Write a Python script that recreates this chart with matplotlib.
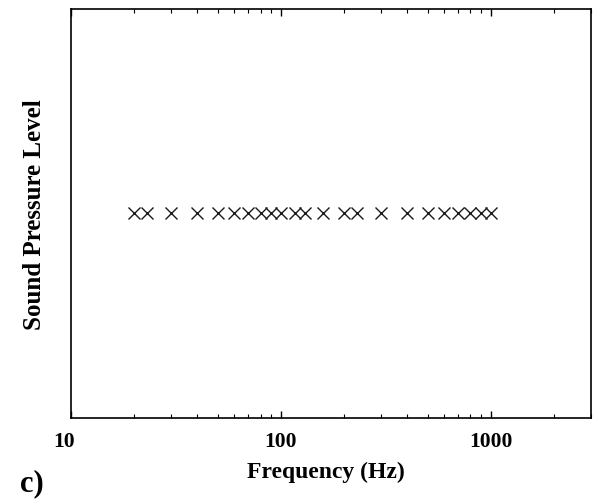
import matplotlib
matplotlib.use("Agg")
import matplotlib.pyplot as plt
import matplotlib.transforms as mtransforms
from matplotlib.ticker import LogLocator, NullFormatter, FixedLocator, FixedFormatter

# Data
frequencies = [20, 23, 30, 40, 50, 60, 70, 80, 90, 100, 117, 130, 158,
               200, 230, 300, 400, 500, 600, 700, 800, 900, 1000]
levels = [0.5] * len(frequencies)
tick_values = [10, 100, 1000]
tick_labels = ["10", "100", "1000"]

plt.rcParams['font.family'] = ['Liberation Serif', 'DejaVu Serif']

fig = plt.figure(figsize=(5.93, 5.02), dpi=100)
ax = fig.add_axes([0.1197, 0.1663, 0.8769, 0.8137])

ax.plot(frequencies, levels, linestyle='none', marker='x', markersize=8.5,
        markeredgewidth=1.0, color='#1a1a1a')

ax.set_xscale('log')
ax.set_xlim(10, 3000)
ax.set_ylim(0, 1)

ax.xaxis.set_major_locator(FixedLocator(tick_values))
ax.xaxis.set_major_formatter(FixedFormatter(tick_labels))
ax.xaxis.set_minor_locator(LogLocator(base=10, subs=range(2, 10)))
ax.xaxis.set_minor_formatter(NullFormatter())
ax.tick_params(axis='x', which='major', direction='in', length=5, width=1,
               top=True, bottom=True, pad=9.5, labelsize=15.5)
ax.tick_params(axis='x', which='minor', direction='in', length=3, width=0.8,
               top=True, bottom=True)
fig.canvas.draw()
for i, lab in enumerate(ax.get_xticklabels()):
    lab.set_fontweight('bold')
    if i == 0:
        lab.set_transform(lab.get_transform() +
                          mtransforms.ScaledTranslation(-7 / 100, 0, fig.dpi_scale_trans))
ax.set_yticks([])

for sp in ax.spines.values():
    sp.set_linewidth(1.2)
    sp.set_color('black')

ax.set_xlabel('Frequency (Hz)', fontsize=17, fontweight='bold', labelpad=7)
ax.xaxis.set_label_coords(0.49, -0.105)
ax.set_ylabel('Sound Pressure Level', fontsize=18, fontweight='bold', labelpad=18)

fig.text(0.033, 0.008, 'c)', fontsize=22, fontweight='bold', ha='left', va='bottom')

fig.savefig('out.png', dpi=100)
